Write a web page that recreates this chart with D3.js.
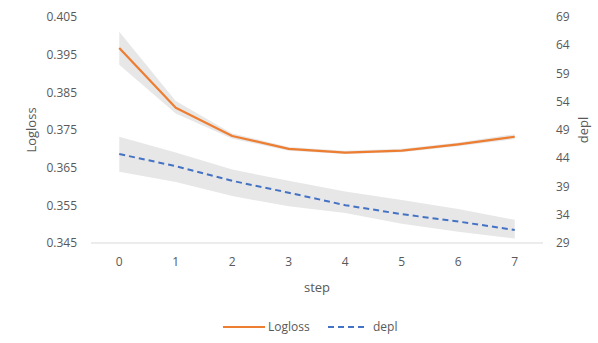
<!DOCTYPE html>
<html>
<head>
<meta charset="utf-8">
<script src="https://cdn.jsdelivr.net/npm/d3@7"></script>
<style>
  body { margin: 0; background: #fff; }
  text { font-family: "Open Sans", sans-serif; fill: #595959; }
</style>
</head>
<body>
<div id="chart"></div>
<script>
// values
const steps = [0, 1, 2, 3, 4, 5, 6, 7];
const logloss = [0.3968, 0.3809, 0.3734, 0.3700, 0.3690, 0.3695, 0.3712, 0.3732];
const loglossLow = [0.3923, 0.3794, 0.3727, 0.3695, 0.3686, 0.3691, 0.3707, 0.3726];
const loglossHigh = [0.4011, 0.3827, 0.3741, 0.3705, 0.3695, 0.3700, 0.3717, 0.3739];
const depl = [44.75, 42.6, 40.0, 37.9, 35.7, 34.1, 32.8, 31.3];
const deplLow = [41.6, 39.8, 37.3, 35.5, 34.3, 32.4, 31.0, 29.8];
const deplHigh = [47.8, 45.0, 42.0, 40.0, 38.1, 36.6, 35.0, 33.1];
const leftTicks = [0.345, 0.355, 0.365, 0.375, 0.385, 0.395, 0.405];
const rightTicks = [29, 34, 39, 44, 49, 54, 59, 64, 69];

const width = 598, height = 343;
const margin = {top: 17, right: 55, bottom: 100, left: 91};

const svg = d3.select("#chart")
  .append("svg")
  .attr("width", width)
  .attr("height", height);

const x = d3.scaleBand()
  .domain(steps)
  .range([margin.left, width - margin.right]);

const yLeft = d3.scaleLinear()
  .domain([0.345, 0.405])
  .range([height - margin.bottom, margin.top]);

const yRight = d3.scaleLinear()
  .domain([29, 69])
  .range([height - margin.bottom, margin.top]);

const cx = d => x(d) + x.bandwidth() / 2;

// confidence bands
const bandLeft = d3.area()
  .x((d, i) => cx(steps[i]))
  .y0((d, i) => yLeft(loglossLow[i]))
  .y1((d, i) => yLeft(loglossHigh[i]));

const bandRight = d3.area()
  .x((d, i) => cx(steps[i]))
  .y0((d, i) => yRight(deplLow[i]))
  .y1((d, i) => yRight(deplHigh[i]));

svg.append("path")
  .datum(depl)
  .attr("d", bandRight)
  .attr("fill", "#e7e7e7");

svg.append("path")
  .datum(logloss)
  .attr("d", bandLeft)
  .attr("fill", "#e7e7e7");

// x axis line
svg.append("line")
  .attr("x1", margin.left).attr("x2", width - margin.right)
  .attr("y1", yLeft(0.345)).attr("y2", yLeft(0.345))
  .attr("stroke", "#d9d9d9")
  .attr("stroke-width", 1.2);

// lines
const lineLeft = d3.line()
  .x((d, i) => cx(steps[i]))
  .y(d => yLeft(d));

const lineRight = d3.line()
  .x((d, i) => cx(steps[i]))
  .y(d => yRight(d));

svg.append("path")
  .datum(depl)
  .attr("d", lineRight)
  .attr("fill", "none")
  .attr("stroke", "#4472c4")
  .attr("stroke-width", 2)
  .attr("stroke-dasharray", "6,4");

svg.append("path")
  .datum(logloss)
  .attr("d", lineLeft)
  .attr("fill", "none")
  .attr("stroke", "#ed7d31")
  .attr("stroke-width", 2.2)
  .attr("stroke-linejoin", "round");

// tick labels
svg.append("g")
  .selectAll("text")
  .data(leftTicks)
  .join("text")
  .attr("x", 77)
  .attr("y", d => yLeft(d))
  .attr("dy", "0.35em")
  .attr("text-anchor", "end")
  .attr("font-size", 12)
  .text(d => d3.format(".3f")(d));

svg.append("g")
  .selectAll("text")
  .data(rightTicks)
  .join("text")
  .attr("x", 556)
  .attr("y", d => yRight(d))
  .attr("dy", "0.35em")
  .attr("font-size", 12)
  .text(d => d);

svg.append("g")
  .selectAll("text")
  .data(steps)
  .join("text")
  .attr("x", d => cx(d))
  .attr("y", 262)
  .attr("dy", "0.35em")
  .attr("text-anchor", "middle")
  .attr("font-size", 12)
  .text(d => d);

// axis titles
svg.append("text")
  .attr("transform", "translate(31,130) rotate(-90)")
  .attr("text-anchor", "middle")
  .attr("dy", "0.35em")
  .attr("font-size", 13)
  .text("Logloss");

svg.append("text")
  .attr("transform", "translate(583,130) rotate(-90)")
  .attr("text-anchor", "middle")
  .attr("dy", "0.35em")
  .attr("font-size", 13)
  .text("depl");

svg.append("text")
  .attr("x", (margin.left + width - margin.right) / 2)
  .attr("y", 287)
  .attr("dy", "0.35em")
  .attr("text-anchor", "middle")
  .attr("font-size", 13)
  .text("step");

// legend
const legend = svg.append("g");
legend.append("line")
  .attr("x1", 223).attr("x2", 265)
  .attr("y1", 327).attr("y2", 327)
  .attr("stroke", "#ed7d31").attr("stroke-width", 2.2);
legend.append("text")
  .attr("x", 268).attr("y", 327).attr("dy", "0.35em")
  .attr("font-size", 12)
  .text("Logloss");
legend.append("line")
  .attr("x1", 328).attr("x2", 368)
  .attr("y1", 327).attr("y2", 327)
  .attr("stroke", "#4472c4").attr("stroke-width", 2)
  .attr("stroke-dasharray", "6,4");
legend.append("text")
  .attr("x", 373).attr("y", 327).attr("dy", "0.35em")
  .attr("font-size", 12)
  .text("depl");
</script>
</body>
</html>
